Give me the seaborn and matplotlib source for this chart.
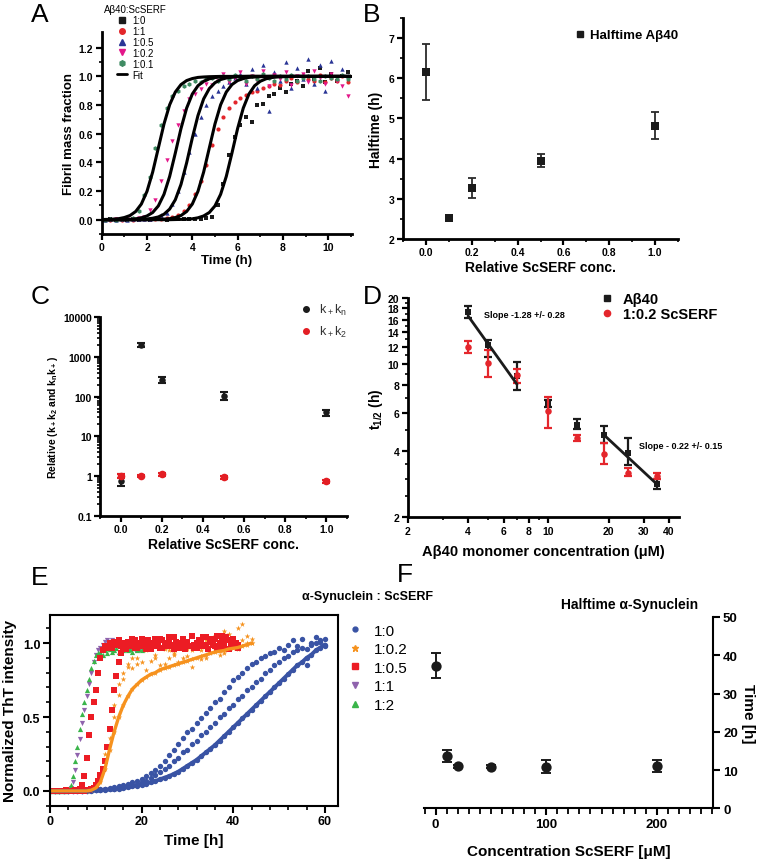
import numpy as np
import matplotlib
matplotlib.use("Agg")
import matplotlib.pyplot as plt
from matplotlib.lines import Line2D
from matplotlib.ticker import MultipleLocator, FixedLocator, NullFormatter, LogLocator
import seaborn as sns

# --- A: Abeta40 aggregation kinetics ---
a_time = [0.125, 0.375, 0.625, 0.875, 1.125, 1.375, 1.625, 1.875, 2.125, 2.375,
          2.625, 2.875, 3.125, 3.375, 3.625, 3.875, 4.125, 4.375, 4.625, 4.875,
          5.125, 5.375, 5.625, 5.875, 6.125, 6.375, 6.625, 6.875, 7.125, 7.375,
          7.625, 7.875, 8.125, 8.375, 8.625, 8.875, 9.125, 9.375, 9.625, 9.875,
          10.125, 10.375, 10.625, 10.875]
a_black = [0.0, 0.002, 0.0, 0.003, 0.0, 0.002, 0.0, 0.004, 0.0, 0.003,
           0.002, 0.0, 0.004, 0.002, 0.005, 0.003, 0.006, 0.008, 0.01, 0.02,
           0.1, 0.25, 0.45, 0.58, 0.66, 0.72, 0.68, 0.8, 0.81, 0.86,
           0.88, 0.92, 0.89, 0.95, 0.97, 0.93, 1.04, 0.98, 1.06, 0.96,
           1.02, 0.97, 1.0, 1.03]
a_red = [0.0, 0.0, 0.003, 0.0, 0.002, 0.0, 0.004, 0.003, 0.005, 0.004,
         0.006, 0.01, 0.02, 0.03, 0.06, 0.1, 0.18, 0.27, 0.38, 0.52,
         0.63, 0.72, 0.78, 0.82, 0.85, 0.87, 0.89, 0.9, 0.92, 0.93,
         0.95, 0.94, 0.97, 0.99, 0.96, 1.0, 0.98, 0.97, 1.01, 0.96,
         0.99, 0.97, 1.0, 0.96]
a_blue = [0.0, 0.003, 0.0, 0.002, 0.0, 0.004, 0.003, 0.006, 0.008, 0.015,
          0.03, 0.05, 0.11, 0.2, 0.33, 0.47, 0.6, 0.72, 0.8, 0.86,
          0.9, 0.93, 0.96, 0.99, 1.02, 0.95, 1.05, 0.92, 1.08, 0.76,
          1.03, 0.97, 1.1, 0.92, 1.06, 0.98, 1.12, 0.95, 1.08, 0.9,
          1.11, 0.99, 1.05, 1.0]
a_magenta = [0.0, 0.0, 0.002, 0.0, 0.004, 0.003, 0.01, 0.02, 0.07, 0.14,
             0.27, 0.42, 0.55, 0.66, 0.76, 0.84, 0.88, 0.91, 0.95, 0.94,
             0.97, 1.02, 0.96, 0.99, 1.03, 0.95, 1.0, 0.97, 1.04, 0.93,
             1.01, 0.98, 1.03, 0.94, 1.0, 1.02, 0.96, 1.04, 0.99, 0.95,
             1.02, 0.97, 0.93, 0.86]
a_green = [0.0, 0.002, 0.0, 0.003, 0.005, 0.01, 0.06, 0.17, 0.3, 0.5,
           0.66, 0.78, 0.86, 0.9, 0.93, 0.95, 0.97, 0.96, 0.98, 0.99,
           0.97, 1.0, 0.98, 1.01, 0.99, 0.97, 1.0, 0.98, 1.02, 0.99,
           0.97, 1.0, 0.98, 1.01, 0.97, 0.99, 1.0, 0.98, 0.97, 1.0,
           0.99, 0.98, 1.01, 0.98]

fit_time = [0.0, 0.25, 0.5, 0.75, 1.0, 1.25, 1.5, 1.75, 2.0, 2.25,
            2.5, 2.75, 3.0, 3.25, 3.5, 3.75, 4.0, 4.25, 4.5, 4.75,
            5.0, 5.25, 5.5, 5.75, 6.0, 6.25, 6.5, 6.75, 7.0, 7.25,
            7.5, 7.75, 8.0, 8.25, 8.5, 8.75, 9.0, 9.25, 9.5, 9.75,
            10.0, 10.25, 10.5, 10.75, 11.0]
fit_green = [0.001, 0.002, 0.004, 0.007, 0.015, 0.029, 0.057, 0.109, 0.198, 0.332,
             0.5, 0.668, 0.802, 0.891, 0.943, 0.971, 0.985, 0.993, 0.996, 0.998,
             0.999, 1.0, 1.0, 1.0, 1.0, 1.0, 1.0, 1.0, 1.0, 1.0,
             1.0, 1.0, 1.0, 1.0, 1.0, 1.0, 1.0, 1.0, 1.0, 1.0,
             1.0, 1.0, 1.0, 1.0, 1.0]
fit_magenta = [0.0, 0.0, 0.0, 0.001, 0.002, 0.003, 0.006, 0.013, 0.026, 0.05,
               0.096, 0.177, 0.302, 0.465, 0.636, 0.779, 0.877, 0.935, 0.966, 0.983,
               0.992, 0.996, 0.998, 0.999, 1.0, 1.0, 1.0, 1.0, 1.0, 1.0,
               1.0, 1.0, 1.0, 1.0, 1.0, 1.0, 1.0, 1.0, 1.0, 1.0,
               1.0, 1.0, 1.0, 1.0, 1.0]
fit_blue = [0.0, 0.0, 0.0, 0.0, 0.0, 0.0, 0.001, 0.002, 0.005, 0.01,
            0.019, 0.038, 0.074, 0.139, 0.246, 0.397, 0.57, 0.727, 0.843, 0.915,
            0.956, 0.978, 0.989, 0.994, 0.997, 0.999, 1.0, 1.0, 1.0, 1.0,
            1.0, 1.0, 1.0, 1.0, 1.0, 1.0, 1.0, 1.0, 1.0, 1.0,
            1.0, 1.0, 1.0, 1.0, 1.0]
fit_red = [0.0, 0.0, 0.0, 0.0, 0.0, 0.0, 0.0, 0.0, 0.0, 0.001,
           0.002, 0.004, 0.007, 0.015, 0.029, 0.057, 0.109, 0.198, 0.332, 0.5,
           0.668, 0.802, 0.891, 0.943, 0.971, 0.985, 0.993, 0.996, 0.998, 0.999,
           1.0, 1.0, 1.0, 1.0, 1.0, 1.0, 1.0, 1.0, 1.0, 1.0,
           1.0, 1.0, 1.0, 1.0, 1.0]
fit_black = [0.0, 0.0, 0.0, 0.0, 0.0, 0.0, 0.0, 0.0, 0.0, 0.0,
             0.0, 0.0, 0.0, 0.001, 0.002, 0.003, 0.006, 0.013, 0.026, 0.05,
             0.096, 0.177, 0.302, 0.465, 0.636, 0.779, 0.877, 0.935, 0.966, 0.983,
             0.992, 0.996, 0.998, 0.999, 1.0, 1.0, 1.0, 1.0, 1.0, 1.0,
             1.0, 1.0, 1.0, 1.0, 1.0]

# --- B: halftime vs ScSERF ---
b_conc = [0.0, 0.1, 0.2, 0.5, 1.0]
b_half = [6.15, 2.52, 3.27, 3.95, 4.82]
b_err = [0.7, 0.08, 0.25, 0.17, 0.33]

# --- C: relative rate constants ---
c_conc = [0.0, 0.1, 0.2, 0.5, 1.0]
c_nuc = [0.77, 2000, 270, 105, 40]
c_nuc_lo = [0.57, 1750, 225, 82, 33]
c_nuc_hi = [1.15, 2250, 320, 130, 47]
c_sec = [1.02, 1.0, 1.12, 0.92, 0.74]
c_sec_lo = [0.9, 0.92, 1.02, 0.84, 0.67]
c_sec_hi = [1.12, 1.08, 1.22, 1.0, 0.81]

# --- D: halftime vs monomer concentration ---
d_conc = [4, 5, 7, 10, 14, 19, 25, 35]
d_ab = [17.3, 12.3, 8.8, 6.6, 5.3, 4.75, 3.95, 2.85]
d_ab_lo = [1.0, 1.5, 1.2, 0.25, 0.25, 0.4, 0.5, 0.15]
d_ab_hi = [1.2, 0.6, 1.4, 0.25, 0.3, 0.5, 0.65, 0.15]
d_serf = [12.0, 10.1, 8.9, 6.1, 4.6, 3.9, 3.2, 3.1]
d_serf_lo = [0.7, 1.4, 0.7, 1.0, 0.15, 0.4, 0.12, 0.1]
d_serf_hi = [0.8, 1.5, 0.6, 0.95, 0.15, 0.45, 0.15, 0.1]
d_fit1_x = [4, 7]
d_fit1_y = [16.6, 8.1]
d_fit2_x = [19, 35]
d_fit2_y = [4.75, 2.82]

# --- E: alpha-synuclein kinetics ---
e_time_blue = [0, 1, 2, 3, 4, 5, 6, 7, 8, 9, 10, 11, 12, 13, 14, 15, 16, 17, 18, 19,
               20, 21, 22, 23, 24, 25, 26, 27, 28, 29, 30, 31, 32, 33, 34, 35, 36, 37, 38, 39,
               40, 41, 42, 43, 44, 45, 46, 47, 48, 49, 50, 51, 52, 53, 54, 55, 56, 57, 58, 59, 60]
e_blue_a = [0.0, 0.0, 0.0, 0.0, 0.0, 0.0, 0.0, 0.0, 0.0, 0.002,
            0.004, 0.006, 0.008, 0.01, 0.013, 0.016, 0.02, 0.025, 0.03, 0.036,
            0.042, 0.05, 0.058, 0.067, 0.078, 0.09, 0.1, 0.115, 0.13, 0.15,
            0.17, 0.19, 0.21, 0.235, 0.26, 0.285, 0.31, 0.34, 0.37, 0.4,
            0.43, 0.46, 0.49, 0.52, 0.55, 0.58, 0.61, 0.64, 0.67, 0.7,
            0.73, 0.76, 0.79, 0.82, 0.85, 0.87, 0.9, 0.92, 0.95, 0.97, 0.99]
e_blue_b = [0.0, 0.002, 0.0, 0.003, 0.001, 0.0, 0.004, 0.002, 0.005, 0.006,
            0.008, 0.01, 0.015, 0.02, 0.025, 0.03, 0.04, 0.05, 0.06, 0.07,
            0.08, 0.1, 0.12, 0.14, 0.17, 0.2, 0.24, 0.28, 0.32, 0.36,
            0.4, 0.42, 0.46, 0.49, 0.53, 0.56, 0.6, 0.62, 0.67, 0.7,
            0.75, 0.77, 0.8, 0.83, 0.86, 0.87, 0.9, 0.91, 0.93, 0.94,
            0.97, 0.95, 0.99, 1.02, 0.98, 1.03, 0.85, 1.0, 1.04, 1.01, 1.03]
e_blue_c = [0.001, 0.0, 0.002, 0.0, 0.0, 0.003, 0.0, 0.002, 0.0, 0.004,
            0.005, 0.007, 0.01, 0.012, 0.016, 0.02, 0.025, 0.03, 0.04, 0.05,
            0.06, 0.07, 0.09, 0.11, 0.13, 0.15, 0.17, 0.2, 0.22, 0.26,
            0.28, 0.32, 0.34, 0.38, 0.4, 0.43, 0.46, 0.5, 0.52, 0.56,
            0.58, 0.62, 0.64, 0.68, 0.7, 0.74, 0.76, 0.8, 0.82, 0.85,
            0.87, 0.9, 0.91, 0.94, 0.95, 0.97, 0.96, 0.99, 1.0, 1.02, 0.98]

e_time_orange = [0, 1, 2, 3, 4, 5, 6, 7, 8, 9, 10, 11, 12, 13, 14, 15, 16, 17, 18, 19,
                 20, 21, 22, 23, 24, 25, 26, 27, 28, 29, 30, 31, 32, 33, 34, 35, 36, 37, 38, 39,
                 40, 41, 42, 43, 44]
e_orange_a = [0.0, 0.0, 0.0, 0.0, 0.0, 0.0, 0.0, 0.0, 0.0, 0.005,
              0.02, 0.06, 0.15, 0.28, 0.4, 0.5, 0.58, 0.64, 0.69, 0.72,
              0.75, 0.77, 0.79, 0.8, 0.82, 0.83, 0.84, 0.85, 0.86, 0.87,
              0.88, 0.89, 0.9, 0.91, 0.92, 0.93, 0.94, 0.945, 0.95, 0.96,
              0.965, 0.97, 0.98, 0.99, 1.0]
e_orange_b = [0.0, 0.0, 0.002, 0.0, 0.0, 0.003, 0.0, 0.002, 0.004, 0.01,
              0.04, 0.12, 0.25, 0.42, 0.58, 0.72, 0.8, 0.86, 0.83, 0.9,
              0.87, 0.95, 0.88, 0.92, 0.85, 0.96, 0.9, 0.93, 0.87, 1.0,
              0.91, 0.95, 0.98, 0.89, 1.02, 0.94, 1.05, 0.92, 1.08, 0.97,
              1.03, 1.1, 1.13, 1.0, 1.03]
e_orange_c = [0.0, 0.001, 0.0, 0.0, 0.002, 0.0, 0.0, 0.003, 0.0, 0.006,
              0.03, 0.09, 0.2, 0.36, 0.5, 0.65, 0.76, 0.84, 0.9, 0.86,
              0.95, 0.82, 0.97, 0.9, 0.98, 0.86, 0.95, 0.92, 1.0, 0.9,
              0.96, 0.84, 0.99, 0.95, 0.9, 1.0, 0.96, 1.04, 0.93, 1.06,
              0.99, 0.96, 1.02, 1.05, 1.0]

e_time_red = [0.0, 0.5, 1.0, 1.5, 2.0, 2.5, 3.0, 3.5, 4.0, 4.5,
              5.0, 5.5, 6.0, 6.5, 7.0, 7.5, 8.0, 8.5, 9.0, 9.5,
              10.0, 10.5, 11.0, 11.5, 12.0, 12.5, 13.0, 13.5, 14.0, 14.5,
              15.0, 15.5, 16.0, 16.5, 17.0, 17.5, 18.0, 18.5, 19.0, 19.5,
              20.0, 20.5, 21.0, 21.5, 22.0, 22.5, 23.0, 23.5, 24.0, 24.5,
              25.0, 25.5, 26.0, 26.5, 27.0, 27.5, 28.0, 28.5, 29.0, 29.5,
              30.0, 30.5, 31.0, 31.5, 32.0, 32.5, 33.0, 33.5, 34.0, 34.5,
              35.0, 35.5, 36.0, 36.5, 37.0, 37.5, 38.0, 38.5, 39.0, 39.5,
              40.0, 40.5, 41.0]
e_red_a = [0.0, 0.0, 0.0, 0.0, 0.0, 0.0, 0.0, 0.0, 0.0, 0.0,
           0.002, 0.004, 0.008, 0.015, 0.04, 0.1, 0.22, 0.38, 0.5, 0.6,
           0.68, 0.8, 0.9, 0.95, 0.98, 0.97,
           1.0, 0.97, 1.01, 0.99, 1.02, 0.98, 1.0, 0.96, 1.01, 0.99,
           1.03, 0.97, 1.0, 0.98, 1.02, 0.99, 0.96, 1.01, 1.0, 0.98,
           1.03, 0.99, 0.97, 1.02, 1.0, 0.98, 1.04, 0.99, 0.96, 1.01,
           1.0, 0.97, 1.03, 0.99, 1.01, 0.98, 1.05, 0.97, 1.0, 1.02,
           0.98, 1.04, 0.99, 0.96, 1.03, 1.0, 0.98, 1.05, 0.97, 1.01,
           0.99, 1.04, 0.96, 1.02, 0.98, 1.0, 0.97]
e_red_b = [0.0, 0.0, 0.0, 0.002, 0.0, 0.0, 0.0, 0.003, 0.0, 0.0,
           0.0, 0.002, 0.0, 0.0, 0.003, 0.0, 0.004,
           0.005, 0.01, 0.02, 0.04, 0.07, 0.11, 0.15, 0.2, 0.3, 0.42,
           0.55, 0.68, 0.78, 0.87, 0.93, 0.96, 0.98,
           0.99, 1.01, 0.98, 1.02, 0.97, 1.0, 1.03, 0.98, 0.99, 1.02,
           0.96, 1.0, 1.01, 0.98, 1.03, 0.97, 1.0, 0.99, 1.02, 0.98,
           1.04, 0.97, 1.0, 0.99, 1.03, 0.96, 1.01, 0.98, 1.05, 0.99,
           0.97, 1.02, 1.0, 0.98, 1.04, 0.96, 1.01, 0.99, 1.03, 0.97,
           1.0, 1.05, 0.98, 1.02, 0.96, 1.0, 1.03, 0.98, 0.99]

e_time_fast = [0.0, 0.5, 1.0, 1.5, 2.0, 2.5, 3.0, 3.5, 4.0, 4.5,
               5.0, 5.5, 6.0, 6.5, 7.0, 7.5, 8.0, 8.5, 9.0, 9.5,
               10.0, 10.5, 11.0, 11.5, 12.0, 12.5, 13.0, 13.5, 14.0, 14.5,
               15.0, 15.5, 16.0, 16.5, 17.0, 17.5, 18.0, 18.5, 19.0, 19.5, 20.0]
e_purple = [0.0, 0.0, 0.0, 0.0, 0.0, 0.0, 0.0, 0.0,
            0.005, 0.02, 0.06, 0.14, 0.24, 0.35, 0.46, 0.55, 0.64, 0.72,
            0.8, 0.87, 0.92, 0.95, 0.97, 0.99, 1.01, 1.02, 1.0, 1.02,
            0.99, 1.01, 0.98, 0.97, 0.95, 0.96, 0.95, 0.97, 0.96, 0.95,
            0.96, 0.95, 0.96]
e_green = [0.0, 0.0, 0.0, 0.0, 0.0, 0.0, 0.0, 0.0,
           0.01, 0.04, 0.1, 0.2, 0.3, 0.42, 0.52, 0.6, 0.68, 0.76,
           0.83, 0.88, 0.92, 0.93, 0.94, 0.92, 0.95, 0.93, 0.96, 0.94,
           0.95, 0.97, 0.94, 0.96, 0.95, 0.97, 0.95, 0.96, 0.94, 0.97,
           0.95, 0.96, 0.95]

# --- F: alpha-synuclein halftime ---
f_conc = [0, 10, 20, 50, 100, 200]
f_half = [37.3, 13.7, 11.0, 10.9, 10.9, 11.0]
f_err = [3.2, 1.5, 0.4, 0.4, 1.8, 1.5]

# ---------------- style ----------------
sns.set_theme(style="ticks")
plt.rcParams["font.family"] = ["Liberation Sans", "DejaVu Sans"]
plt.rcParams["font.weight"] = "bold"
plt.rcParams["axes.labelweight"] = "bold"
plt.rcParams["mathtext.default"] = "regular"
for key in ("axes.edgecolor", "xtick.color", "ytick.color", "text.color", "axes.labelcolor"):
    plt.rcParams[key] = "black"

BLK = "#1b1b1b"
fig = plt.figure(figsize=(7.62, 8.62), dpi=100)


def px_axes(l, t, r, b):
    return fig.add_axes([l / 762, 1 - b / 862, (r - l) / 762, (b - t) / 862])


def origin_style(ax, lw=2.0, labelsize=7.5):
    sns.despine(ax=ax)
    for s in ("left", "bottom"):
        ax.spines[s].set_linewidth(lw)
    ax.tick_params(which="major", direction="out", length=4, width=1.6,
                   labelsize=labelsize, pad=2)
    ax.tick_params(which="minor", direction="out", length=2.5, width=1.2)


# ---- A ----
axA = px_axes(101.7, 33, 352, 235)
a_series = [("1:0", a_black, BLK, "s", 7), ("1:1", a_red, "#e3262b", "o", 9),
            ("1:0.5", a_blue, "#2a3596", "^", 10), ("1:0.2", a_magenta, "#e3178a", "v", 10),
            ("1:0.1", a_green, "#3f8b63", "h", 11)]
for name, vals, col, mk, sz in a_series:
    sns.scatterplot(x=a_time, y=vals, color=col, marker=mk, s=sz, linewidth=0, ax=axA)
for fit in (fit_green, fit_magenta, fit_blue, fit_red, fit_black):
    sns.lineplot(x=fit_time, y=fit, color="black", linewidth=2.2, ax=axA)
axA.set_xlim(0, 11.05)
axA.set_ylim(-0.1, 1.31)
axA.set_xticks([0, 2, 4, 6, 8, 10])
axA.xaxis.set_minor_locator(MultipleLocator(1))
axA.set_yticks([0, 0.2, 0.4, 0.6, 0.8, 1.0, 1.2],
               labels=["0.0", "0.2", "0.4", "0.6", "0.8", "1.0", "1.2"])
axA.yaxis.set_minor_locator(FixedLocator([-0.1, 0.1, 0.3, 0.5, 0.7, 0.9, 1.1]))
origin_style(axA)
axA.set_xlabel("Time (h)", fontsize=9.5, labelpad=1)
axA.set_ylabel("Fibril mass fraction", fontsize=9.5, labelpad=3)
handlesA = [Line2D([], [], ls="none", marker=mk, color=col, ms=4) for _, _, col, mk, _ in a_series]
handlesA.append(Line2D([], [], color="black", lw=2))
axA.legend(handlesA, [s[0] for s in a_series] + ["Fit"], title="A\u03b240:ScSERF",
           loc="upper left", bbox_to_anchor=(104 / 762, 1 - 5 / 862),
           bbox_transform=fig.transFigure, frameon=False,
           prop={"size": 7, "weight": "normal"},
           title_fontproperties={"size": 7, "weight": "normal"},
           handlelength=1.0, handletextpad=0.5, labelspacing=0.1,
           borderpad=0, borderaxespad=0)

# ---- B ----
axB = px_axes(403, 19, 678, 240)
axB.errorbar(b_conc, b_half, yerr=b_err, fmt="none", ecolor="#2b2b2b",
             elinewidth=1.3, capsize=3, capthick=1.3)
sns.scatterplot(x=b_conc, y=b_half, marker="s", color=BLK, s=28, linewidth=0,
                ax=axB, zorder=3)
axB.set_xlim(-0.1, 1.1)
axB.set_ylim(2, 7.5)
axB.set_xticks([0, 0.2, 0.4, 0.6, 0.8, 1.0],
               labels=["0.0", "0.2", "0.4", "0.6", "0.8", "1.0"])
axB.xaxis.set_minor_locator(MultipleLocator(0.1))
axB.set_yticks([2, 3, 4, 5, 6, 7])
axB.yaxis.set_minor_locator(MultipleLocator(0.5))
origin_style(axB)
axB.set_xlabel("Relative ScSERF conc.", fontsize=10, labelpad=2)
axB.set_ylabel("Halftime (h)", fontsize=10, labelpad=4)
axB.legend([Line2D([], [], ls="none", marker="s", color=BLK, ms=4.5)], ["Halftime A\u03b240"],
           loc="upper right", bbox_to_anchor=(1.03, 0.985), frameon=False,
           prop={"size": 9.5, "weight": "bold"}, handletextpad=0.3, handlelength=1.0,
           borderaxespad=0.2)

# ---- C ----
axC = px_axes(100, 318.3, 347, 516.7)
axC.set_yscale("log")
axC.errorbar(c_conc, c_nuc, yerr=[np.subtract(c_nuc, c_nuc_lo), np.subtract(c_nuc_hi, c_nuc)],
             fmt="none", ecolor=BLK, elinewidth=1.5, capsize=3, capthick=1.5)
sns.scatterplot(x=c_conc, y=c_nuc, marker="o", color=BLK, s=22, linewidth=0, ax=axC, zorder=3)
axC.errorbar(c_conc, c_sec, yerr=[np.subtract(c_sec, c_sec_lo), np.subtract(c_sec_hi, c_sec)],
             fmt="none", ecolor="#e31e24", elinewidth=1.5, capsize=3, capthick=1.5, zorder=4)
sns.scatterplot(x=c_conc, y=c_sec, marker="o", color="#e31e24", s=30, linewidth=0, ax=axC, zorder=5)
axC.set_xlim(-0.1, 1.1)
axC.set_ylim(0.1, 10000)
axC.set_xticks([0, 0.2, 0.4, 0.6, 0.8, 1.0],
               labels=["0.0", "0.2", "0.4", "0.6", "0.8", "1.0"])
axC.xaxis.set_minor_locator(MultipleLocator(0.1))
axC.set_yticks([0.1, 1, 10, 100, 1000, 10000],
               labels=["0.1", "1", "10", "100", "1000", "10000"])
axC.yaxis.set_minor_locator(LogLocator(base=10, subs=[2, 3, 4, 5, 6, 7, 8, 9]))
axC.yaxis.set_minor_formatter(NullFormatter())
origin_style(axC)
axC.set_xlabel("Relative ScSERF conc.", fontsize=10, labelpad=2)
axC.set_ylabel("Relative (k$_+$k$_2$ and k$_n$k$_+$)", fontsize=7.5, labelpad=2)
axC.legend([Line2D([], [], ls="none", marker="o", color=BLK, ms=4),
            Line2D([], [], ls="none", marker="o", color="#e31e24", ms=4)],
           ["k$_+$k$_n$", "k$_+$k$_2$"], loc="upper left",
           bbox_to_anchor=(293 / 762, 1 - 297 / 862), bbox_transform=fig.transFigure,
           frameon=False, prop={"size": 9, "weight": "normal"}, labelcolor="#333333",
           handlelength=1.0, handletextpad=0.6, labelspacing=0.55, borderpad=0)

# ---- D ----
axD = px_axes(407.7, 299.3, 679.3, 518.3)
axD.set_xscale("log")
axD.set_yscale("log")
axD.errorbar(d_conc, d_ab, yerr=[d_ab_lo, d_ab_hi], fmt="none", ecolor=BLK,
             elinewidth=1.6, capsize=3, capthick=1.6)
sns.scatterplot(x=d_conc, y=d_ab, marker="s", color=BLK, s=20, linewidth=0, ax=axD, zorder=3)
axD.errorbar(d_conc, d_serf, yerr=[d_serf_lo, d_serf_hi], fmt="none", ecolor="#e4262c",
             elinewidth=1.6, capsize=3, capthick=1.6, zorder=4)
sns.scatterplot(x=d_conc, y=d_serf, marker="o", color="#e4262c", s=22, linewidth=0, ax=axD, zorder=5)
sns.lineplot(x=d_fit1_x, y=d_fit1_y, color=BLK, linewidth=2, ax=axD, zorder=6)
sns.lineplot(x=d_fit2_x, y=d_fit2_y, color=BLK, linewidth=2, ax=axD, zorder=6)
axD.text(4.8, 16.8, "Slope -1.28 +/- 0.28", fontsize=6.5, va="center", ha="left")
axD.text(28.5, 4.25, "Slope - 0.22 +/- 0.15", fontsize=6.5, va="center", ha="left")
axD.set_xlim(2, 45)
axD.set_ylim(2, 20)
axD.set_xticks([2, 4, 6, 8, 10, 20, 30, 40], labels=["2", "4", "6", "8", "10", "20", "30", "40"])
axD.xaxis.set_minor_locator(FixedLocator([3, 5, 7, 9]))
axD.xaxis.set_minor_formatter(NullFormatter())
axD.set_yticks([2, 4, 6, 8, 10, 12, 14, 16, 18, 20],
               labels=["2", "4", "6", "8", "10", "12", "14", "16", "18", "20"])
axD.yaxis.set_minor_locator(FixedLocator([2.5, 3, 3.5, 5, 7, 9, 11, 13, 15, 17, 19]))
axD.yaxis.set_minor_formatter(NullFormatter())
origin_style(axD)
axD.set_xlabel("A\u03b240 monomer concentration (\u03bcM)", fontsize=10.5, labelpad=6)
axD.set_ylabel("t$_{1/2}$ (h)", fontsize=10, labelpad=2)
axD.legend([Line2D([], [], ls="none", marker="s", color=BLK, ms=4.5),
            Line2D([], [], ls="none", marker="o", color="#e4262c", ms=4.5)],
           ["A\u03b240", "1:0.2 ScSERF"], loc="upper left",
           bbox_to_anchor=(592 / 762, 1 - 286 / 862), bbox_transform=fig.transFigure,
           frameon=False, prop={"size": 10.5, "weight": "bold"},
           handlelength=1.0, handletextpad=0.6, labelspacing=0.05, borderpad=0)

# ---- E ----
E_BLUE, E_ORANGE, E_RED, E_PURPLE, E_GREEN = "#3953a4", "#f6921e", "#ec1c24", "#8f63ad", "#3ab54a"
axE = px_axes(50, 616, 337.7, 806.7)
sns.lineplot(x=e_time_blue, y=e_blue_a, color=E_BLUE, linewidth=2.8, ax=axE)
for vals in (e_blue_a, e_blue_b, e_blue_c):
    sns.scatterplot(x=e_time_blue, y=vals, color=E_BLUE, marker="o", s=15, linewidth=0, ax=axE)
sns.lineplot(x=e_time_orange, y=e_orange_a, color=E_ORANGE, linewidth=2.4, ax=axE)
for vals in (e_orange_a, e_orange_b, e_orange_c):
    sns.scatterplot(x=e_time_orange, y=vals, color=E_ORANGE, marker="*", s=18, linewidth=0, ax=axE)
sns.scatterplot(x=e_time_fast, y=e_purple, color=E_PURPLE, marker="v", s=14, linewidth=0, ax=axE)
sns.scatterplot(x=e_time_fast, y=e_green, color=E_GREEN, marker="^", s=14, linewidth=0, ax=axE)
for vals in (e_red_a, e_red_b):
    sns.scatterplot(x=e_time_red, y=vals, color=E_RED, marker="s", s=13, linewidth=0, ax=axE)
axE.set_xlim(0, 62.8)
axE.set_ylim(-0.1, 1.19)
axE.set_xticks([0, 20, 40, 60])
axE.xaxis.set_minor_locator(MultipleLocator(4))
axE.set_yticks([0, 0.5, 1.0], labels=["0.0", "0.5", "1.0"])
axE.yaxis.set_minor_locator(MultipleLocator(0.1))
for s in axE.spines.values():
    s.set_linewidth(1.5)
axE.tick_params(which="major", direction="out", length=5, width=1.5, labelsize=9, pad=2)
axE.tick_params(which="minor", direction="out", length=3, width=1.2)
axE.set_xlabel("Time [h]", fontsize=11, labelpad=4)
axE.set_ylabel("Normalized ThT intensity", fontsize=11, labelpad=4)
fig.text(367 / 762, 1 - 597 / 862, "\u03b1-Synuclein : ScSERF", ha="center", va="center",
         fontsize=9, weight="bold")
axE.legend([Line2D([], [], ls="none", marker="o", color=E_BLUE, ms=3.5),
            Line2D([], [], ls="none", marker="*", color=E_ORANGE, ms=4.5),
            Line2D([], [], ls="none", marker="s", color=E_RED, ms=4),
            Line2D([], [], ls="none", marker="v", color=E_PURPLE, ms=4),
            Line2D([], [], ls="none", marker="^", color=E_GREEN, ms=4)],
           ["1:0", "1:0.2", "1:0.5", "1:1", "1:2"], loc="upper left",
           bbox_to_anchor=(340 / 762, 1 - 617 / 862), bbox_transform=fig.transFigure,
           frameon=False, prop={"size": 11, "weight": "normal"},
           handlelength=1.0, handletextpad=0.7, labelspacing=0.3, borderpad=0)

# ---- F ----
axF = px_axes(424, 618, 713.3, 809.3)
axF.errorbar(f_conc, f_half, yerr=f_err, fmt="none", ecolor=BLK, elinewidth=1.4,
             capsize=3.5, capthick=1.4)
sns.scatterplot(x=f_conc, y=f_half, marker="o", color=BLK, s=55, linewidth=0, ax=axF, zorder=3)
axF.set_xlim(-10.5, 251)
axF.set_ylim(0, 50)
axF.set_xticks([0, 100, 200])
axF.xaxis.set_minor_locator(MultipleLocator(10))
axF.set_yticks([0, 10, 20, 30, 40, 50])
axF.yaxis.tick_right()
axF.yaxis.set_label_position("right")
axF.spines["top"].set_visible(False)
axF.spines["left"].set_visible(False)
for s in ("bottom", "right"):
    axF.spines[s].set_linewidth(1.5)
axF.tick_params(which="major", direction="out", length=5, width=1.5, labelsize=9.5, pad=2)
axF.tick_params(which="minor", direction="out", length=4.5, width=1.3)
axF.set_xlabel("Concentration ScSERF [\u03bcM]", fontsize=11, labelpad=10)
axF.set_ylabel("Time [h]", fontsize=11, rotation=270, labelpad=12)
fig.text(630 / 762, 1 - 605 / 862, "Halftime \u03b1-Synuclein", ha="center", va="center",
         fontsize=10, weight="bold")

# ---- panel letters ----
for letter, x, y in [("A", 40, 15), ("B", 372, 15), ("C", 40, 297),
                     ("D", 372, 297), ("E", 40, 578), ("F", 405, 575)]:
    fig.text(x / 762, 1 - y / 862, letter, fontsize=19, weight="normal",
             ha="center", va="center")

fig.savefig("out.png", dpi=100)
